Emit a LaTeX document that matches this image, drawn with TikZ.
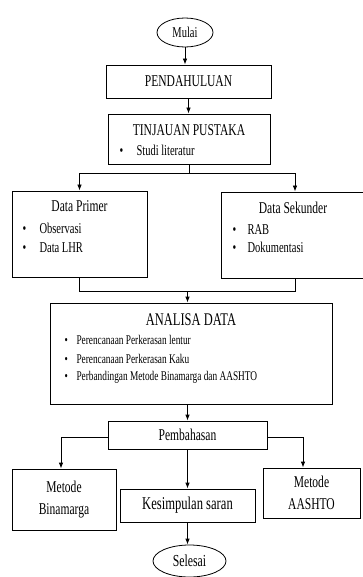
\documentclass[tikz,border=0pt]{standalone}
\usepackage{fontspec}
\setmainfont{Liberation Serif}[FakeStretch=0.7]
\usetikzlibrary{positioning}
\usetikzlibrary{shapes}
\usetikzlibrary{arrows.meta}

\newcommand{\titik}[1]{\makebox[#1][l]{\textbullet}}

\tikzset{
  kotak/.style={draw, rectangle, line width=0.8pt, inner sep=0pt},
  oval/.style={draw, ellipse, line width=0.8pt, inner sep=0pt},
  garis/.style={line width=0.8pt},
  panah/.style={garis, -{Latex[length=6pt,width=4.5pt]}},
  judul/.style={font=\fontsize{16.5}{22}\selectfont},
  butir/.style={anchor=west, font=\fontsize{15}{17}\selectfont},
  butirkecil/.style={anchor=west, font=\fontsize{13.3}{15}\selectfont},
}

\begin{document}
\begin{tikzpicture}[x=1pt,y=-1pt]
    \useasboundingbox (0,0) rectangle (363,577);
    \clip (0,0) rectangle (363,577);

    % Awal
    \node[oval, minimum width=56, minimum height=29, font=\fontsize{15}{17}\selectfont] (mulai) at (185,32.5) {Mulai};
    \node[kotak, minimum width=165, minimum height=33, judul] (pendahuluan) at (188.5,81.5) {PENDAHULUAN};

    % Tinjauan pustaka
    \node[kotak, minimum width=162, minimum height=50] (tinjauan) at (189,139) {};
    \node[judul] (tinjauanJudul) at (189,130) {TINJAUAN PUSTAKA};
    \node[butir] (studi) at (116,150) {\titik{17pt}Studi literatur};

    % Data
    \node[kotak, minimum width=135, minimum height=86] (primer) at (79.5,234) {};
    \node[judul] (primerJudul) at (79.5,206) {Data Primer};
    \node[butir] (observasi) at (19,228) {\titik{17pt}Observasi};
    \node[butir] (lhr) at (19,248) {\titik{17pt}Data LHR};

    \node[kotak, minimum width=145, minimum height=86] (sekunder) at (293.5,235) {};
    \node[judul] (sekunderJudul) at (293,208) {Data Sekunder};
    \node[butir] (rab) at (229,230) {\titik{15pt}RAB};
    \node[butir] (dokumentasi) at (229,247) {\titik{15pt}Dokumentasi};

    % Analisa
    \node[kotak, minimum width=282, minimum height=101] (analisa) at (191,353.5) {};
    \node[judul, font=\fontsize{17.8}{22}\selectfont] (analisaJudul) at (191,320) {ANALISA DATA};
    \node[butirkecil] (lentur) at (61,340) {\titik{12pt}Perencanaan Perkerasan lentur};
    \node[butirkecil] (kaku) at (61,359) {\titik{12pt}Perencanaan Perkerasan Kaku};
    \node[butirkecil] (banding) at (61,377) {\titik{12pt}Perbandingan Metode Binamarga dan AASHTO};

    % Pembahasan dan hasil
    \node[kotak, minimum width=159, minimum height=28, judul] (pembahasan) at (187.5,435) {Pembahasan};
    \node[kotak, minimum width=104, minimum height=61, judul, align=center] (binamarga) at (64,499.5) {Metode\\Binamarga};
    \node[kotak, minimum width=97, minimum height=50, judul, align=center] (aashto) at (311.5,493) {Metode\\AASHTO};
    \node[kotak, minimum width=135, minimum height=33, judul, font=\fontsize{18}{22}\selectfont] (kesimpulan) at (187.5,505.5) {Kesimpulan saran};
    \node[oval, minimum width=73, minimum height=32, judul, font=\fontsize{16.8}{22}\selectfont] (selesai) at (189.5,561) {Selesai};

    % Panah
    \draw[panah] (mulai.south) -- (mulai.south |- pendahuluan.north);
    \draw[panah] (pendahuluan.south) -- (pendahuluan.south |- tinjauan.north);
    \draw[garis] (tinjauan.south) -- ++(0,9) coordinate (cabang);
    \draw[panah] (cabang) -| (primer.north);
    \draw[panah] (cabang) -| ([xshift=1.5pt]sekunder.north);
    \draw[garis] (primer.south) -- ++(0,14) coordinate (gabung) -| ([xshift=1.5pt]sekunder.south);
    \draw[panah] (gabung -| pembahasan.north) -- (pembahasan.north |- analisa.north);
    \draw[panah] (analisa.south -| pembahasan.north) -- (pembahasan.north);
    \draw[panah] ([yshift=-2pt]pembahasan.west) -| ([xshift=-3pt]binamarga.north);
    \draw[panah] ([yshift=-2pt]pembahasan.east) -| ([xshift=-8.5pt]aashto.north);
    \draw[panah] (pembahasan.south) -- (kesimpulan.north);
    \draw[panah] (kesimpulan.south) -- (kesimpulan.south |- selesai.north);
\end{tikzpicture}
\end{document}
